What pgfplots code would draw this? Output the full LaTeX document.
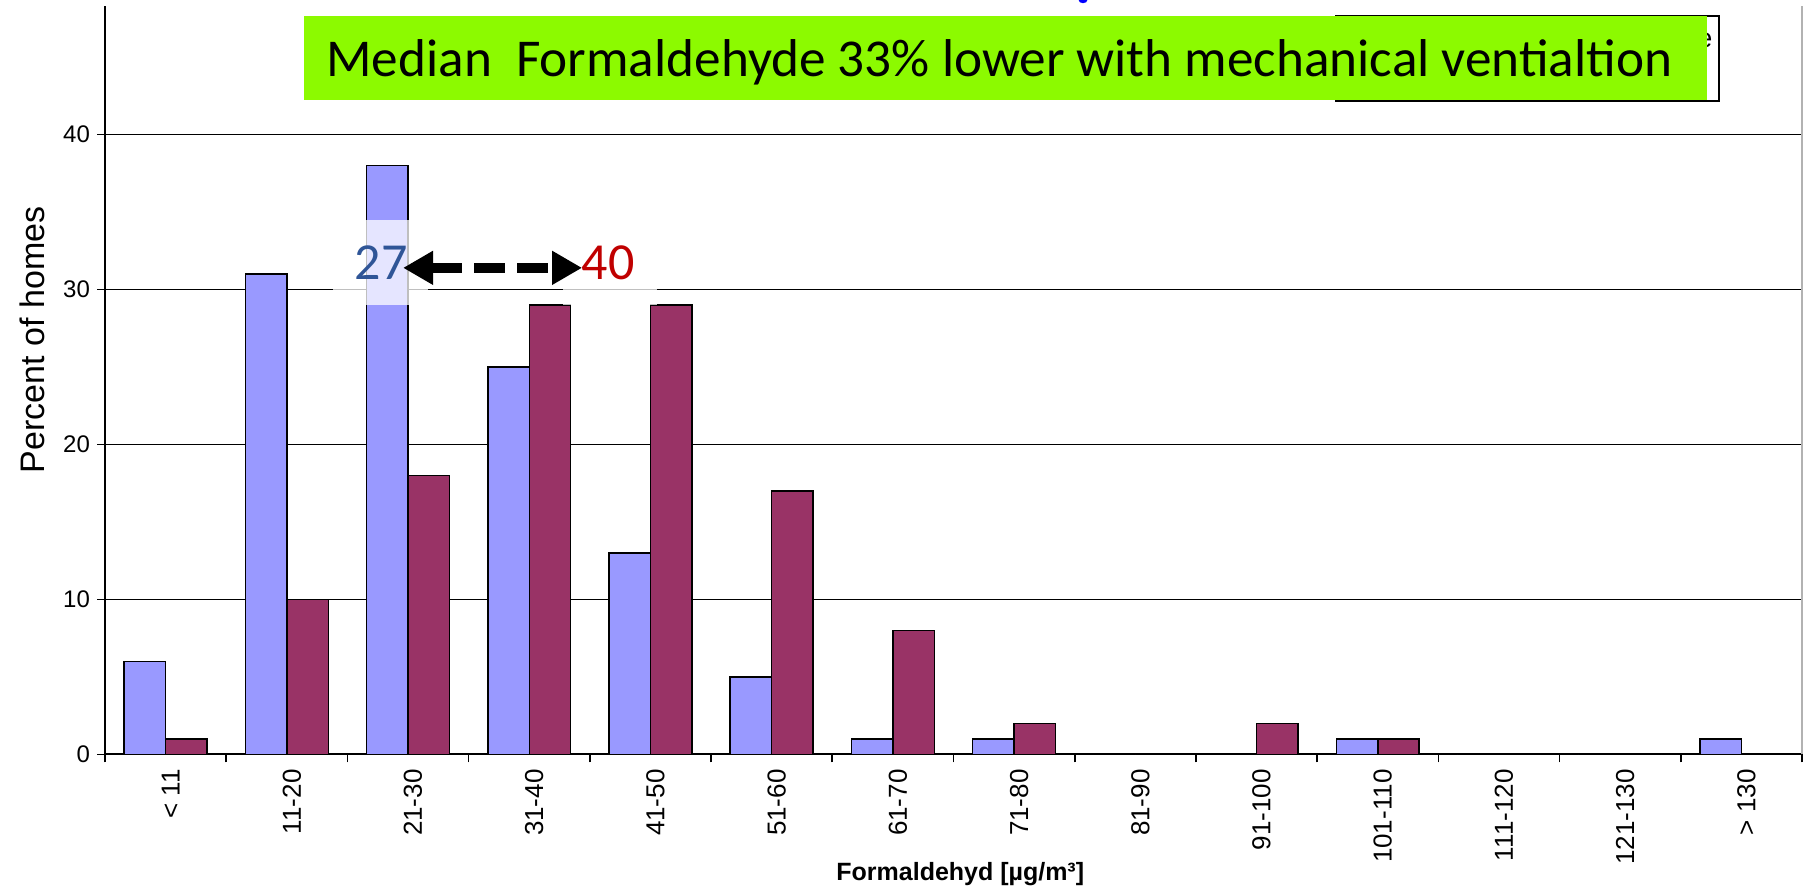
\documentclass[border=0pt]{standalone}
\usepackage{fontspec}
\setmainfont{Liberation Sans}
\newfontfamily\carlito{Carlito}
\usepackage{pgfplots}
\pgfplotsset{compat=1.18}
\usetikzlibrary{arrows.meta}
\definecolor{barblue}{RGB}{153,153,255}
\definecolor{barred}{RGB}{153,51,102}
\definecolor{boxgreen}{RGB}{140,250,0}
\definecolor{txtblue}{RGB}{47,85,151}
\definecolor{txtred}{RGB}{192,0,0}
\begin{document}
\begin{tikzpicture}
\useasboundingbox (0,0) rectangle (903pt,444.5pt);
\begin{axis}[
  at={(52.5pt,67.3pt)}, anchor=south west,
  scale only axis, width=848.5pt, height=374.2pt,
  xmin=-0.5, xmax=13.5, ymin=0, ymax=48.3,
  ybar=0pt, bar width=0.342,
  axis x line*=bottom, axis y line*=left,
  axis line style={line width=1pt},
  tick align=outside,
  major tick length=4pt, minor tick length=4pt,
  tick style={black, line width=0.8pt},
  xtick={0,...,13},
  minor xtick={-0.5,0.5,...,13.5},
  every major x tick/.append style={draw=none},
  xticklabels={{< 11},{11-20},{21-30},{31-40},{41-50},{51-60},{61-70},{71-80},{81-90},{91-100},{101-110},{111-120},{121-130},{> 130}},
  xticklabel style={font=\fontsize{13}{15}\selectfont, rotate=90, anchor=east, yshift=-2.5pt},
  ytick={0,10,20,30,40},
  yticklabel style={font=\fontsize{12}{14}\selectfont},
  /pgf/number format/assume math mode=true,
  ymajorgrids=true,
  major grid style={black, line width=0.75pt},
  ylabel={Percent of homes},
  ylabel style={font=\fontsize{17}{20}\selectfont, at={(axis description cs:-0.043,0.554)}, anchor=center},
  xlabel={\bfseries Formaldehyd [µg/m³]},
  xlabel style={font=\fontsize{12.5}{15}\selectfont, at={(axis description cs:0.504,-0.16)}, anchor=center},
  clip=false,
]
\addplot[fill=barblue, draw=black, line width=0.75pt] coordinates {
 (0,6) (1,31) (2,38) (3,25) (4,13) (5,5) (6,1) (7,1) (8,0) (9,0) (10,1) (11,0) (12,0) (13,1)};
\addplot[fill=barred, draw=black, line width=0.75pt] coordinates {
 (0,1) (1,10) (2,18) (3,29) (4,29) (5,17) (6,8) (7,2) (8,0) (9,2) (10,1) (11,0) (12,0) (13,0)};
\draw[gray!60, line width=1pt] (rel axis cs:1,0) -- (rel axis cs:1,1);
\fill[white, opacity=0.75] (axis cs:1.381,29.0) rectangle (axis cs:2.165,34.5);
\fill[white, opacity=0.75] (axis cs:3.279,29.0) rectangle (axis cs:4.054,34.5);
\draw[line width=5pt, dash pattern=on 15.5pt off 6pt, {Triangle[length=15pt,width=16pt]}-{Triangle[length=15pt,width=16pt]}] (axis cs:1.959,31.4) -- (axis cs:3.436,31.4);
\node[anchor=base, inner sep=0pt, text=txtblue, font=\carlito\fontsize{26}{30}\selectfont] at (axis cs:1.777,30.63) {27};
\node[anchor=base, inner sep=0pt, text=txtred, font=\carlito\fontsize{26}{30}\selectfont] at (axis cs:3.65,30.63) {40};
\end{axis}
\fill[blue] (541.5pt,444.5pt) ellipse (2.2pt and 1.6pt);
\draw[black, line width=0.75pt, fill=white] (668pt,394pt) rectangle (859.5pt,436.5pt);
\node[anchor=west, inner sep=0pt, font=\fontsize{13.5}{15}\selectfont] at (848.5pt,424.5pt) {e};
\fill[boxgreen] (152pt,394.5pt) rectangle (853.5pt,436.5pt);
\node[anchor=base west, inner sep=0pt] at (163pt,406pt) {\resizebox{673pt}{!}{\carlito Median\ \ Formaldehyde 33\% lower with mechanical ventialtion}};
\end{tikzpicture}
\end{document}
